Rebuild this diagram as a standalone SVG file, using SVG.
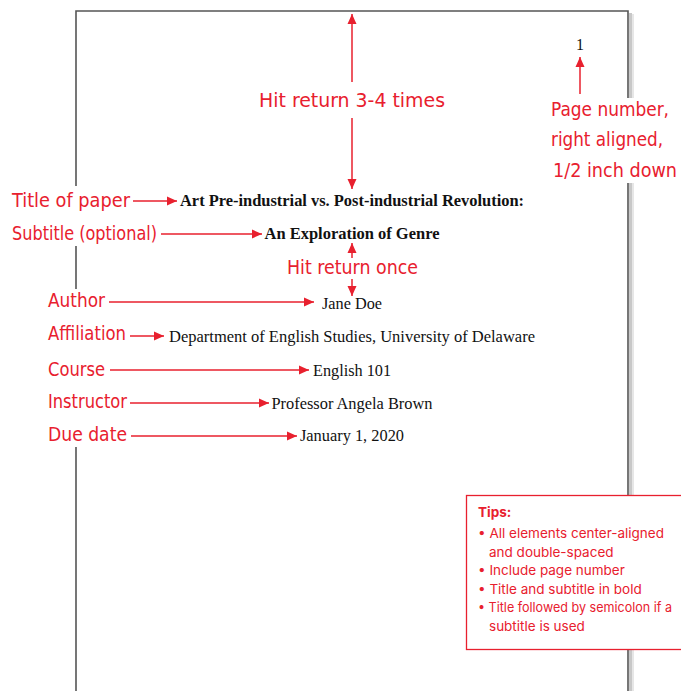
<svg xmlns="http://www.w3.org/2000/svg" width="681" height="691" viewBox="0 0 681 691">
<defs>
<marker id="ah" viewBox="0 0 10 10" refX="10" refY="5" markerWidth="10" markerHeight="10" markerUnits="userSpaceOnUse" orient="auto">
<path d="M0,0.5 L10,5 L0,9.5 z" fill="#e8202e"/>
</marker>
<style>
.hand{font-family:"Liberation Sans Narrow","DejaVu Sans Condensed","Liberation Sans",sans-serif;font-size:20px;fill:#e8202e;}
.serif{font-family:"Liberation Serif","Times New Roman",serif;font-size:16px;fill:#111;}
.b{font-weight:bold;}
.tip{font-family:Inter,"Open Sans","Liberation Sans",sans-serif;font-size:13.5px;fill:#e8202e;}
.arr{stroke:#e8202e;stroke-width:1.5;fill:none;marker-end:url(#ah);}
.bg{fill:#ffffff;}
</style>
</defs>
<rect width="681" height="691" fill="#ffffff"/>
<g id="page">
<rect x="629" y="13" width="3" height="680" fill="#c8c8c8"/>
<rect x="632" y="14" width="2" height="680" fill="#e6e6e6"/>
<path d="M76,700 L76,11 L628,11 L628,700" fill="none" stroke="#555555" stroke-width="1.6"/>
</g>
<g id="label-backgrounds">
<rect class="bg" x="6" y="186" width="158" height="60"/>
<rect class="bg" x="42" y="289" width="92" height="158"/>
<rect class="bg" x="546" y="98" width="135" height="85"/>
</g>
<g id="connectors">
<line class="arr" x1="352" y1="82" x2="352" y2="14"/>
<line class="arr" x1="352" y1="118" x2="352" y2="189"/>
<line class="arr" x1="580" y1="94" x2="580" y2="57"/>
<line class="arr" x1="133" y1="201" x2="177" y2="201"/>
<line class="arr" x1="161" y1="234" x2="262" y2="234"/>
<line class="arr" x1="352" y1="258" x2="352" y2="243"/>
<line class="arr" x1="352" y1="279" x2="352" y2="296"/>
<line class="arr" x1="109" y1="302" x2="314" y2="302"/>
<line class="arr" x1="130" y1="336" x2="164" y2="336"/>
<line class="arr" x1="110" y1="370" x2="309" y2="370"/>
<line class="arr" x1="130" y1="403" x2="269" y2="403"/>
<line class="arr" x1="131" y1="436" x2="297" y2="436"/>
</g>
<g id="page-number"><text class="serif" x="580" y="50" text-anchor="middle">1</text></g>
<g id="hit-return-top"><text class="hand" x="259" y="107" textLength="186" lengthAdjust="spacingAndGlyphs">Hit return 3-4 times</text></g>
<g id="page-number-note">
<text class="hand" x="551" y="116" textLength="118" lengthAdjust="spacingAndGlyphs">Page number,</text>
<text class="hand" x="551" y="146" textLength="112" lengthAdjust="spacingAndGlyphs">right aligned,</text>
<text class="hand" x="553" y="177" textLength="124" lengthAdjust="spacingAndGlyphs">1/2 inch down</text>
</g>
<g id="title">
<text class="hand" x="12" y="207" textLength="118" lengthAdjust="spacingAndGlyphs">Title of paper</text>
<text class="serif b" x="352" y="206" text-anchor="middle" textLength="344" lengthAdjust="spacingAndGlyphs">Art Pre-industrial vs. Post-industrial Revolution:</text>
</g>
<g id="subtitle">
<text class="hand" x="12" y="240" textLength="145" lengthAdjust="spacingAndGlyphs">Subtitle (optional)</text>
<text class="serif b" x="352" y="239" text-anchor="middle" textLength="175" lengthAdjust="spacingAndGlyphs">An Exploration of Genre</text>
</g>
<g id="hit-return-once"><text class="hand" x="287" y="274" textLength="131" lengthAdjust="spacingAndGlyphs">Hit return once</text></g>
<g id="author">
<text class="hand" x="48" y="307" textLength="57" lengthAdjust="spacingAndGlyphs">Author</text>
<text class="serif" x="352" y="309" text-anchor="middle" textLength="60" lengthAdjust="spacingAndGlyphs">Jane Doe</text>
</g>
<g id="affiliation">
<text class="hand" x="48" y="340" textLength="78" lengthAdjust="spacingAndGlyphs">Affiliation</text>
<text class="serif" x="352" y="342" text-anchor="middle" textLength="366" lengthAdjust="spacingAndGlyphs">Department of English Studies, University of Delaware</text>
</g>
<g id="course">
<text class="hand" x="48" y="376" textLength="57" lengthAdjust="spacingAndGlyphs">Course</text>
<text class="serif" x="352" y="376" text-anchor="middle" textLength="78" lengthAdjust="spacingAndGlyphs">English 101</text>
</g>
<g id="instructor">
<text class="hand" x="48" y="408" textLength="79" lengthAdjust="spacingAndGlyphs">Instructor</text>
<text class="serif" x="352" y="409" text-anchor="middle" textLength="161" lengthAdjust="spacingAndGlyphs">Professor Angela Brown</text>
</g>
<g id="due-date">
<text class="hand" x="48" y="441" textLength="79" lengthAdjust="spacingAndGlyphs">Due date</text>
<text class="serif" x="352" y="441" text-anchor="middle" textLength="104" lengthAdjust="spacingAndGlyphs">January 1, 2020</text>
</g>
<g id="tips">
<rect x="466.5" y="495.5" width="220" height="154" fill="#ffffff" stroke="#e8202e" stroke-width="1.3"/>
<text class="tip b" x="478" y="517">Tips:</text>
<text class="tip" x="478" y="538">• All elements center-aligned</text>
<text class="tip" x="489" y="557">and double-spaced</text>
<text class="tip" x="478" y="575">• Include page number</text>
<text class="tip" x="478" y="594">• Title and subtitle in bold</text>
<text class="tip" x="478" y="612" textLength="194" lengthAdjust="spacingAndGlyphs">• Title followed by semicolon if a</text>
<text class="tip" x="489" y="631">subtitle is used</text>
</g>
</svg>
